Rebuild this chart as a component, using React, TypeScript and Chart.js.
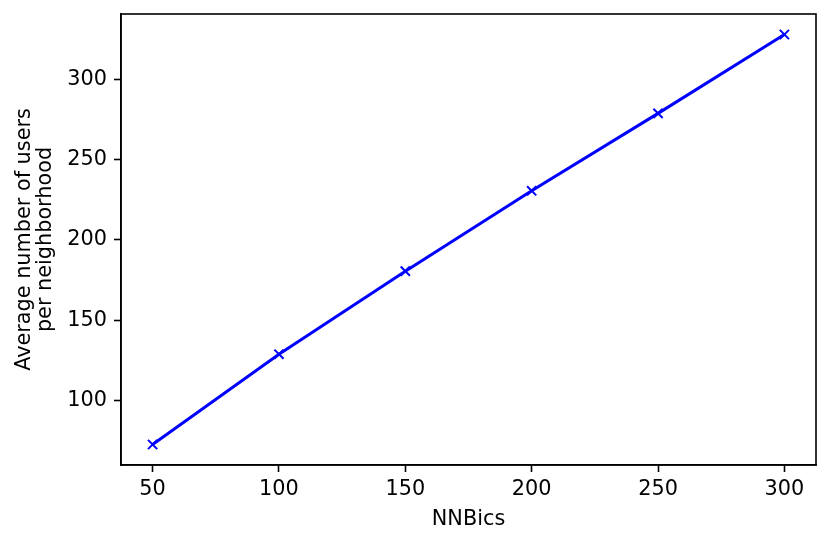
import React, { useEffect, useRef } from "react";
import { Chart, registerables } from "chart.js";

Chart.register(...registerables);

const nnbics = [50, 100, 150, 200, 250, 300];
const avgUsers = [72.7, 128.9, 180.6, 230.6, 278.8, 327.9];
const xTicks = [50, 100, 150, 200, 250, 300];
const yTicks = [100, 150, 200, 250, 300];
const xTitle = "NNBics";
const yTitle = ["Average number of users", "per neighborhood"];

const FONT = "'DejaVu Sans', sans-serif";
const FS = 20.8;

export default function App() {
  const ref = useRef<HTMLCanvasElement | null>(null);

  useEffect(() => {
    if (!ref.current) return;
    const xr = Math.max(...nnbics) - Math.min(...nnbics);
    const yr = Math.max(...avgUsers) - Math.min(...avgUsers);
    const frame = {
      id: "frame",
      afterDraw(chart: any) {
        const { ctx, chartArea } = chart;
        ctx.save();
        ctx.strokeStyle = "#000";
        ctx.lineWidth = 1.6;
        ctx.strokeRect(chartArea.left, chartArea.top, chartArea.right - chartArea.left, chartArea.bottom - chartArea.top);
        ctx.restore();
      },
    };
    const chart = new Chart(ref.current, {
      type: "line",
      data: {
        datasets: [
          {
            data: nnbics.map((x, i) => ({ x, y: avgUsers[i] })),
            borderColor: "#0000ff",
            backgroundColor: "#0000ff",
            borderWidth: 3,
            pointStyle: "crossRot",
            pointRadius: 6.5,
            pointBorderWidth: 2,
            pointBorderColor: "#0000ff",
            tension: 0,
          },
        ],
      },
      options: {
        responsive: false,
        animation: false,
        layout: { padding: { left: 0, top: 14, right: 15, bottom: 0 } },
        plugins: { legend: { display: false }, tooltip: { enabled: false } },
        scales: {
          x: {
            type: "linear",
            min: Math.min(...nnbics) - 0.05 * xr,
            max: Math.max(...nnbics) + 0.05 * xr,
            afterBuildTicks: (s: any) => {
              s.ticks = xTicks.map((v) => ({ value: v }));
            },
            afterFit: (s: any) => {
              s.height = 79;
              s.paddingLeft = 0;
              s.paddingRight = 0;
            },
            grid: { drawOnChartArea: false, drawTicks: true, tickLength: 7, color: "#000", tickWidth: 1.6 },
            border: { display: true, color: "#000", width: 1.6 },
            ticks: { color: "#000", padding: 5, font: { family: FONT, size: FS }, maxRotation: 0 },
            title: {
              display: true,
              text: xTitle,
              color: "#000",
              font: { family: FONT, size: FS },
              padding: { top: 0, bottom: 12 },
            },
          },
          y: {
            type: "linear",
            min: Math.min(...avgUsers) - 0.05 * yr,
            max: Math.max(...avgUsers) + 0.05 * yr,
            afterBuildTicks: (s: any) => {
              s.ticks = yTicks.map((v) => ({ value: v }));
            },
            afterFit: (s: any) => {
              s.width = 121;
              s.paddingTop = 0;
              s.paddingBottom = 0;
            },
            grid: { drawOnChartArea: false, drawTicks: true, tickLength: 7, color: "#000", tickWidth: 1.6 },
            border: { display: true, color: "#000", width: 1.6 },
            ticks: { color: "#000", padding: 7, font: { family: FONT, size: FS } },
            title: {
              display: true,
              text: yTitle,
              color: "#000",
              font: { family: FONT, size: FS, lineHeight: 1.0 },
              padding: { top: 14, bottom: 0 },
            },
          },
        },
      },
      plugins: [frame],
    } as any);
    return () => chart.destroy();
  }, []);

  return (
    <div style={{ position: "absolute", left: 0, top: 0, width: 831, height: 544, background: "#fff" }}>
      <canvas ref={ref} width={831} height={544} style={{ display: "block" }} />
    </div>
  );
}
